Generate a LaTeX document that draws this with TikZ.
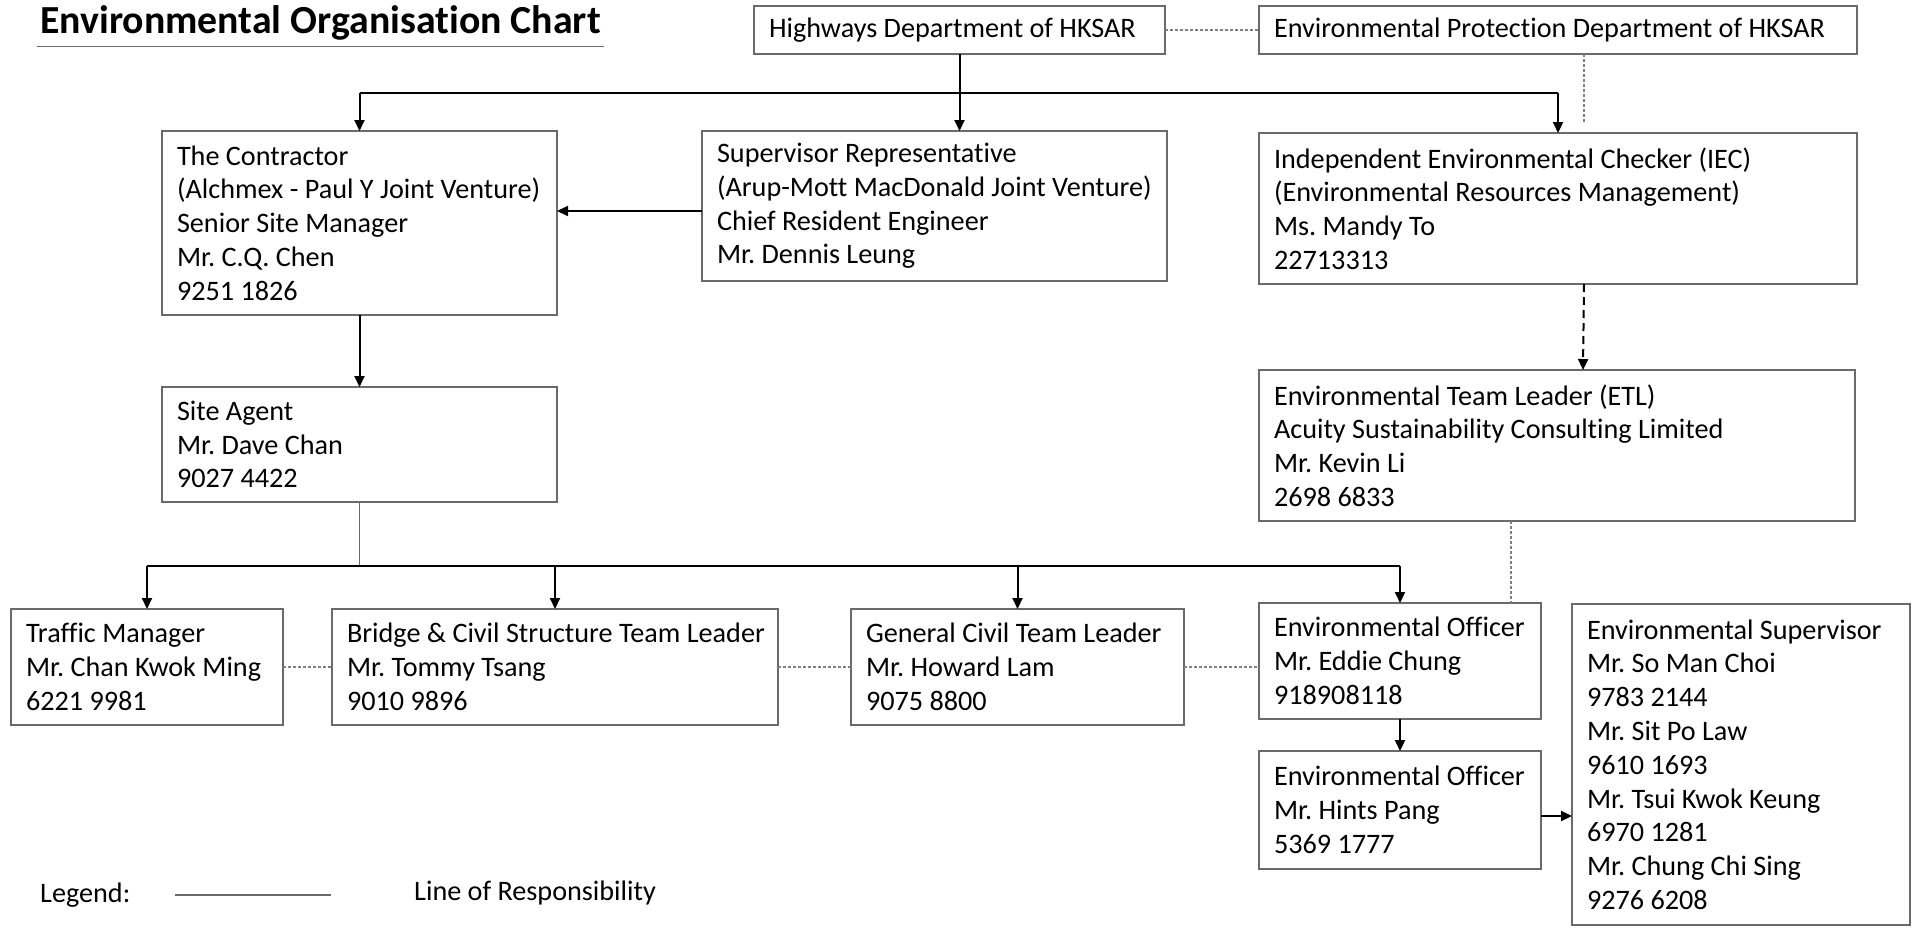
\documentclass[tikz,border=0pt]{standalone}
\usepackage{fontspec}
\setmainfont{Carlito}[Ligatures=NoCommon]
\usetikzlibrary{arrows.meta,calc}
\definecolor{boxgray}{HTML}{6A6A6A}
\definecolor{dotgray}{HTML}{808080}
\newcommand\bodyfont{\fontsize{28.2}{33.8}\selectfont\frenchspacing}
\tikzset{
  box/.style={draw=boxgray, line width=1.5pt, inner sep=0pt, outer sep=0pt, anchor=north west},
  boxtext/.style={inner sep=0pt, outer sep=0pt, align=left, anchor=west, font=\bodyfont, text=black},
  arr/.style={draw=black, line width=2pt, -{Triangle[length=11pt,width=10pt]}},
  plainline/.style={draw=black, line width=2pt},
  thinline/.style={draw=boxgray, line width=1.3pt},
  dotline/.style={draw=dotgray, line width=1.5pt, dash pattern=on 3pt off 2pt},
  dasharr/.style={draw=black, line width=2pt, dash pattern=on 8pt off 5pt, -{Triangle[length=11pt,width=10pt]}},
}
\newcommand\orgbox[6]{%
  \pgfmathsetmacro\bw{#4-#2}\pgfmathsetmacro\bh{#5-#3}%
  \node[box, minimum width=\bw pt, minimum height=\bh pt] (#1) at (#2,#3) {};%
  \node[boxtext] (#1-t) at ([xshift=15pt]#1.west) {#6};%
}
\begin{document}
\begin{tikzpicture}[x=1pt,y=-1pt]
\useasboundingbox (0,0) rectangle (1914,927);
% title
\node[anchor=west, inner sep=0pt, font=\fontsize{39.8}{44}\selectfont\bfseries] (title) at (40,23) {Environmental Organisation Chart};
\draw[boxgray, line width=1.5pt] ([shift={(-3pt,-6pt)}]title.south west) -- ([shift={(3pt,-6pt)}]title.south east);
% boxes
\orgbox{hw}{754}{6}{1165}{54}{Highways Department of HKSAR}
\orgbox{epd}{1259}{6}{1857}{54}{Environmental Protection Department of HKSAR}
\orgbox{con}{162}{131}{557}{315}{The Contractor\\(Alchmex - Paul Y Joint Venture)\\Senior Site Manager\\Mr. C.Q. Chen\\9251 1826}
\orgbox{sr}{702}{131}{1167}{281}{Supervisor Representative\\(Arup-Mott MacDonald Joint Venture)\\Chief Resident Engineer\\Mr. Dennis Leung}
\orgbox{iec}{1259}{133}{1857}{284}{Independent Environmental Checker (IEC)\\(Environmental Resources Management)\\Ms. Mandy To\\22713313}
\orgbox{sa}{162}{387}{557}{502}{Site Agent\\Mr. Dave Chan\\9027 4422}
\orgbox{etl}{1259}{370}{1855}{521}{Environmental Team Leader (ETL)\\Acuity Sustainability Consulting Limited\\Mr. Kevin Li\\2698 6833}
\orgbox{tm}{11}{609}{283}{725}{Traffic Manager\\Mr. Chan Kwok Ming\\6221 9981}
\orgbox{bc}{332}{609}{778}{725}{Bridge \& Civil Structure Team Leader\\Mr. Tommy Tsang\\9010 9896}
\orgbox{gc}{851}{609}{1184}{725}{General Civil Team Leader\\Mr. Howard Lam\\9075 8800}
\orgbox{eoa}{1259}{603}{1541}{719}{Environmental Officer\\Mr. Eddie Chung\\918908118}
\orgbox{eob}{1259}{751}{1541}{869}{Environmental Officer\\Mr. Hints Pang\\5369 1777}
\orgbox{es}{1572}{604}{1910}{925}{Environmental Supervisor\\Mr. So Man Choi\\9783 2144\\Mr. Sit Po Law\\9610 1693\\Mr. Tsui Kwok Keung\\6970 1281\\Mr. Chung Chi Sing\\9276 6208}
% helper coordinates
\coordinate (bus) at (0,93);
\coordinate (bustwo) at (0,566);
\coordinate (srline) at (0,211);
\coordinate (epdout) at ($(epd.south)+(26,0)$);
\coordinate (iecin) at ($(iec.north)+(26,-10)$);
\coordinate (iecout) at ($(iec.south)+(26,0)$);
\coordinate (etlin) at ($(etl.north)+(26,0)$);
\coordinate (etlout) at ($(etl.south)+(-46,0)$);
\coordinate (eobout) at ($(eob.east)+(0,6)$);
% top connectors
\draw[dotline] (hw.east) -- (epd.west);
\draw[arr] (hw.south) -- (hw.south |- sr.north);
\draw[plainline] (con.north |- bus) -- (iec.north |- bus);
\draw[arr] (con.north |- bus) -- (con.north);
\draw[arr] (iec.north |- bus) -- (iec.north);
\draw[dotline] (epdout) -- (iecin);
\draw[arr] (sr.west |- srline) -- (con.east |- srline);
\draw[arr] (con.south) -- (sa.north);
\draw[dasharr] (iecout) -- (etlin);
% lower connectors
\draw[thinline] (sa.south) -- (sa.south |- bustwo);
\draw[plainline] (tm.north |- bustwo) -- (eoa.north |- bustwo);
\draw[arr] (tm.north |- bustwo) -- (tm.north);
\draw[arr] (bc.north |- bustwo) -- (bc.north);
\draw[arr] (gc.north |- bustwo) -- (gc.north);
\draw[arr] (eoa.north |- bustwo) -- (eoa.north);
\draw[dotline] (tm.east) -- (bc.west);
\draw[dotline] (bc.east) -- (gc.west);
\draw[dotline] (gc.east) -- (gc.east -| eoa.west);
\draw[dotline] (etlout) -- (etlout |- eoa.north);
\draw[arr] (eoa.south) -- (eob.north);
\draw[arr] (eobout) -- (eobout -| es.west);
% legend
\node[anchor=west, inner sep=0pt, font=\bodyfont] (legend) at (40,895) {Legend:};
\coordinate (legA) at (175,895);
\coordinate (legB) at (331,895);
\draw[thinline] (legA) -- (legB);
\node[anchor=west, inner sep=0pt, font=\bodyfont] (legtext) at (414,893) {Line of Responsibility};
\end{tikzpicture}
\end{document}
